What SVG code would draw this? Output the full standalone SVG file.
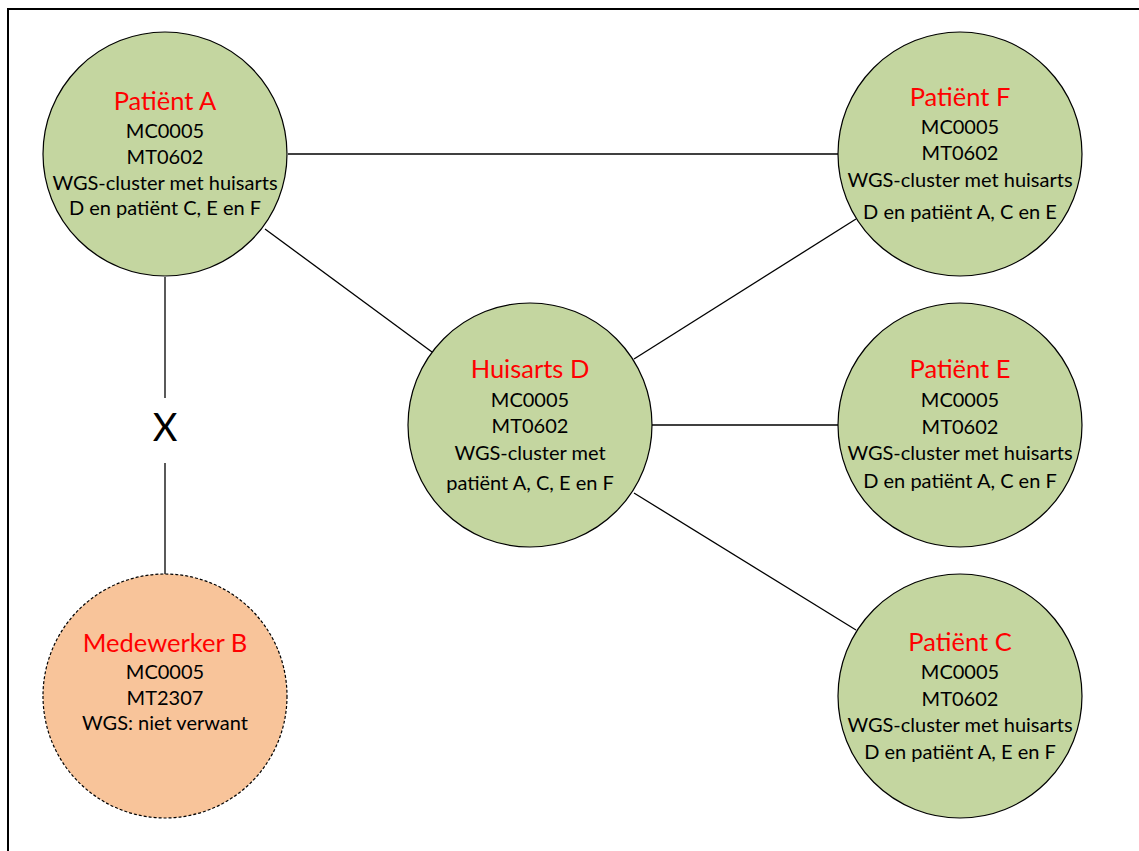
<svg xmlns="http://www.w3.org/2000/svg" width="1139" height="851" viewBox="0 0 1139 851">
<style>
.n{fill:#C4D6A0;stroke:#000;stroke-width:1.2}
.b{fill:#F8C49A;stroke:#000;stroke-width:1.2;stroke-dasharray:3 2}
.t{font-family:Lato,"Liberation Sans",sans-serif;text-anchor:middle}
.h{font-size:25.5px;fill:#FF0000}
.l{font-size:20px;fill:#000}
.c{stroke:#000;stroke-width:1.3;fill:none}
</style>
<rect x="8" y="9" width="1140" height="850" fill="#fff" stroke="#000" stroke-width="2"/>
<g id="connectors">
<line class="c" x1="288" y1="154" x2="838" y2="154"/>
<line class="c" x1="265" y1="229" x2="432" y2="352"/>
<line class="c" x1="165" y1="277" x2="165" y2="398"/>
<line class="c" x1="165" y1="463" x2="165" y2="574"/>
<line class="c" x1="634" y1="359" x2="856" y2="219"/>
<line class="c" x1="652" y1="425" x2="838" y2="425"/>
<line class="c" x1="634" y1="493" x2="856" y2="630"/>
<text class="t" x="165" y="441" font-size="38" fill="#000">X</text>
</g>
<g id="patientA">
<circle class="n" cx="165" cy="154" r="122"/>
<text class="t h" x="165" y="110">Patiënt A</text>
<text class="t l" x="165" y="138">MC0005</text>
<text class="t l" x="165" y="164">MT0602</text>
<text class="t l" x="165" y="190">WGS-cluster met huisarts</text>
<text class="t l" x="165" y="215">D en patiënt C, E en F</text>
</g>
<g id="patientF">
<circle class="n" cx="960" cy="154" r="122"/>
<text class="t h" x="960" y="106">Patiënt F</text>
<text class="t l" x="960" y="134">MC0005</text>
<text class="t l" x="960" y="160">MT0602</text>
<text class="t l" x="960" y="187">WGS-cluster met huisarts</text>
<text class="t l" x="960" y="219">D en patiënt A, C en E</text>
</g>
<g id="huisartsD">
<circle class="n" cx="530" cy="425" r="122"/>
<text class="t h" x="530" y="378">Huisarts D</text>
<text class="t l" x="530" y="407">MC0005</text>
<text class="t l" x="530" y="433">MT0602</text>
<text class="t l" x="530" y="460">WGS-cluster met</text>
<text class="t l" x="530" y="490">patiënt A, C, E en F</text>
</g>
<g id="patientE">
<circle class="n" cx="960" cy="425" r="122"/>
<text class="t h" x="960" y="378">Patiënt E</text>
<text class="t l" x="960" y="407">MC0005</text>
<text class="t l" x="960" y="434">MT0602</text>
<text class="t l" x="960" y="460">WGS-cluster met huisarts</text>
<text class="t l" x="960" y="488">D en patiënt A, C en F</text>
</g>
<g id="patientC">
<circle class="n" cx="960" cy="696" r="122"/>
<text class="t h" x="960" y="651">Patiënt C</text>
<text class="t l" x="960" y="679">MC0005</text>
<text class="t l" x="960" y="706">MT0602</text>
<text class="t l" x="960" y="732">WGS-cluster met huisarts</text>
<text class="t l" x="960" y="759">D en patiënt A, E en F</text>
</g>
<g id="medewerkerB">
<circle class="b" cx="165" cy="696" r="122"/>
<text class="t h" x="165" y="652">Medewerker B</text>
<text class="t l" x="165" y="679">MC0005</text>
<text class="t l" x="165" y="705">MT2307</text>
<text class="t l" x="165" y="730">WGS: niet verwant</text>
</g>
</svg>
